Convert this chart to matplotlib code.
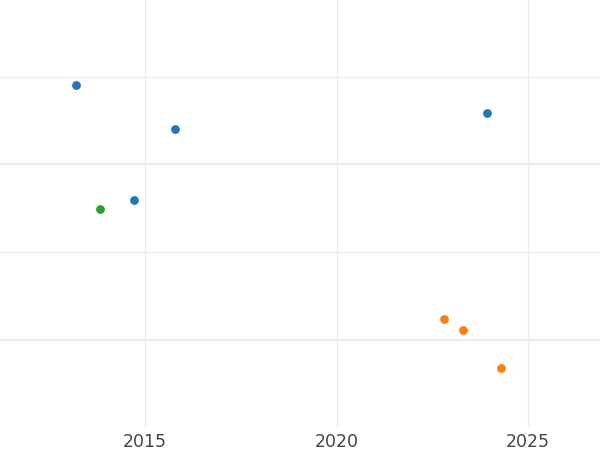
import matplotlib.pyplot as plt
from matplotlib.ticker import MultipleLocator

# Datos
azul_x = [2013.19, 2015.78, 2014.71, 2023.93]
azul_y = [1.45, 1.20, 0.795, 1.295]
verde_x = [2013.81]
verde_y = [0.745]
naranja_x = [2022.80, 2023.30, 2024.30]
naranja_y = [0.12, 0.055, -0.162]

fig = plt.figure(figsize=(6, 4.5), dpi=100)
ax = fig.add_axes([0, 0.0533, 1, 0.9467])

ax.scatter(azul_x, azul_y, s=40, color='#1f77b4', zorder=3, linewidths=0)
ax.scatter(verde_x, verde_y, s=40, color='#2ca02c', zorder=3, linewidths=0)
ax.scatter(naranja_x, naranja_y, s=40, color='#ff7f0e', zorder=3, linewidths=0)

ax.set_xlim(2011.21, 2026.88)
ax.set_ylim(-0.49, 1.937)

ax.xaxis.set_major_locator(MultipleLocator(5))
ax.yaxis.set_major_locator(MultipleLocator(1))
ax.yaxis.set_minor_locator(MultipleLocator(0.5))

ax.grid(which='major', axis='y', color='#ebebeb', linewidth=1.5)
ax.grid(which='minor', axis='y', color='#ebebeb', linewidth=0.9)
ax.grid(which='major', axis='x', color='#ebebeb', linewidth=0.9)
ax.set_axisbelow(True)

for s in ax.spines.values():
    s.set_visible(False)
ax.tick_params(axis='x', length=0, labelsize=12.5, labelcolor='#444444', pad=5)
ax.tick_params(axis='y', which='both', length=0, labelleft=False)

plt.savefig('out.png', dpi=100)
